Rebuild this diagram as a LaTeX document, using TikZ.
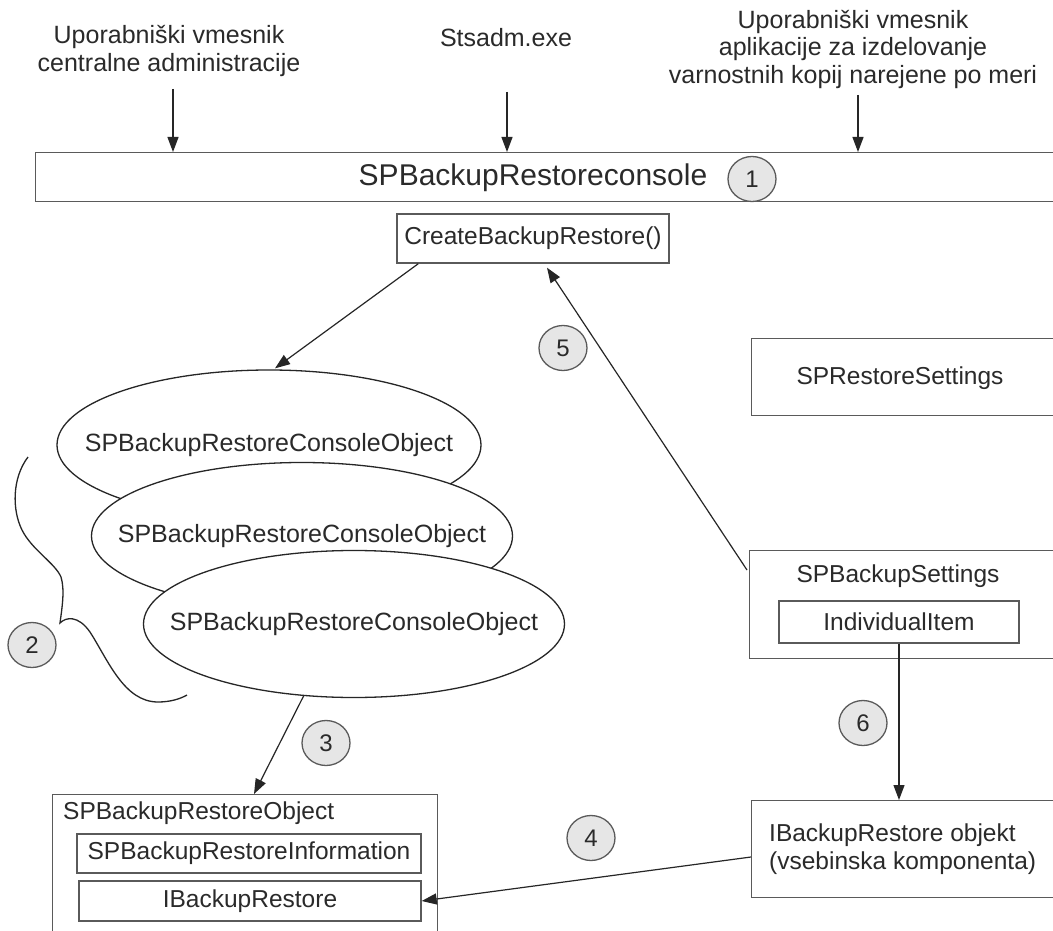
\documentclass[tikz,border=0pt]{standalone}
\usepackage{fontspec}
\setmainfont{Liberation Sans}
\usetikzlibrary{arrows.meta,shapes.geometric,calc}
\definecolor{ink}{HTML}{2A2A2A}
\definecolor{edge}{HTML}{5A5A5A}
\definecolor{badge}{HTML}{E6E6E6}
\tikzset{
  txt/.style={font=\fontsize{24.5}{28}\selectfont, text=ink, inner sep=0pt},
  boxframe/.style={draw=edge, line width=1.4pt, fill=white, inner sep=0pt},
  objshape/.style={ellipse, draw=black!85, line width=1.3pt, fill=white, inner sep=0pt,
    minimum width=421pt, minimum height=147pt},
  objtxt/.style={font=\fontsize{25}{28}\selectfont, text=ink, inner sep=0pt},
  numbadge/.style={ellipse, draw=edge, fill=badge, line width=1.3pt, minimum width=48pt,
    minimum height=45pt, inner sep=0pt, font=\fontsize{24}{28}\selectfont, text=ink},
  conn/.style={draw=black!85, line width=1.2pt, -{Triangle[length=15pt,width=11pt]}},
}
\begin{document}
\begin{tikzpicture}[x=1pt,y=-1pt]
\useasboundingbox (0,0) rectangle (1053,931);
\clip (0,0) rectangle (1053,931);
\fill[white] (0,0) rectangle (1053,931);

% callers on top
\node[txt, align=center, font=\fontsize{25}{28}\selectfont] (lblcentral) at (169,51)
  {Uporabniški vmesnik\\centralne administracije};
\node[txt, font=\fontsize{25}{28}\selectfont] (lblstsadm) at (506,38) {Stsadm.exe};
\node[txt, align=center, font=\fontsize{25}{27.5}\selectfont] (lblcustom) at (853,49)
  {Uporabniški vmesnik\\aplikacije za izdelovanje\\varnostnih kopij narejene po meri};

% console bar
\node[boxframe, anchor=north west, minimum width=1040pt, minimum height=49pt] (console) at (35,152) {};
\node[txt, font=\fontsize{30}{34}\selectfont] (consoletxt) at (533,178) {SPBackupRestoreconsole};
\node[numbadge] (n1) at (752,179) {1};

\coordinate (tc1) at (173,89);
\coordinate (tc2) at (507,92);
\coordinate (tc3) at (858,95);
\draw[conn] (tc1) -- (tc1 |- console.north);
\draw[conn] (tc2) -- (tc2 |- console.north);
\draw[conn] (tc3) -- (tc3 |- console.north);

% factory method
\node[boxframe, txt, draw=edge, minimum width=272pt, minimum height=49pt] (cbr) at (533,238.5) {CreateBackupRestore()};

% settings boxes on the right
\node[boxframe, anchor=north west, minimum width=320pt, minimum height=77pt] (rs) at (751,338) {};
\node[txt] (rstxt) at (900,378) {SPRestoreSettings};

\node[boxframe, anchor=north west, minimum width=320pt, minimum height=108pt] (bs) at (749,550) {};
\node[txt] (bstxt) at (898,576) {SPBackupSettings};
\node[boxframe, txt, draw=edge, minimum width=240pt, minimum height=42pt] (ii) at (899,622) {IndividualItem};

\node[boxframe, anchor=north west, minimum width=320pt, minimum height=97pt] (ibo) at (751,800) {};
\node[txt, align=left, anchor=west] (ibotxt) at (769,849) {IBackupRestore objekt\\(vsebinska komponenta)};

% console objects, stacked
\node[objshape, minimum width=424pt, minimum height=150pt] (e1) at (269,445) {};
\node[objtxt] (e1txt) at (e1) {SPBackupRestoreConsoleObject};
\node[objshape] (e2) at (302,536) {};
\node[objtxt] (e2txt) at (e2) {SPBackupRestoreConsoleObject};
\node[objshape] (e3) at (354,624) {};
\node[objtxt] (e3txt) at (e3) {SPBackupRestoreConsoleObject};

% brace grouping the console objects
\draw[black!85, line width=1.3pt] (28,457) .. controls (12,478) and (12,510) .. (22,530)
  .. controls (32,550) and (55,563) .. (61,577)
  .. controls (65,590) and (62,608) .. (60,623)
  .. controls (66,617) and (78,615) .. (90,632)
  .. controls (108,660) and (124,702) .. (158,702)
  .. controls (170,702) and (180,699) .. (187,695);
\node[numbadge] (n2) at (32,645) {2};

% backup/restore object
\node[boxframe, anchor=north west, minimum width=385pt, minimum height=160pt] (sbro) at (52,794) {};
\node[txt, anchor=west] (sbrotxt) at (63,813) {SPBackupRestoreObject};
\node[boxframe, txt, draw=edge, minimum width=344pt, minimum height=39pt] (sbri) at (249,853.5) {SPBackupRestoreInformation};
\node[boxframe, txt, draw=edge, minimum width=342pt, minimum height=40pt] (ibr) at (250,901) {IBackupRestore};

% connectors
\draw[conn] ($(cbr.south west)+(22,0)$) -- ($(e1.north)+(6,-1)$);
\draw[conn] ($(bs.north west)+(-2,20)$) -- ($(cbr.south)+(14,4)$);
\node[numbadge] (n5) at (563,348) {5};

\draw[conn] (e3.235) -- ($(sbro.north west)+(202,0)$);
\node[numbadge] (n3) at (326,743) {3};

\draw[conn] (ii.south) -- (ii.south |- ibo.north);
\node[numbadge] (n6) at (863,723) {6};

\draw[conn] ($(ibo.north west)+(0,57)$) -- (ibr.east);
\node[numbadge] (n4) at (591,838) {4};
\end{tikzpicture}
\end{document}
